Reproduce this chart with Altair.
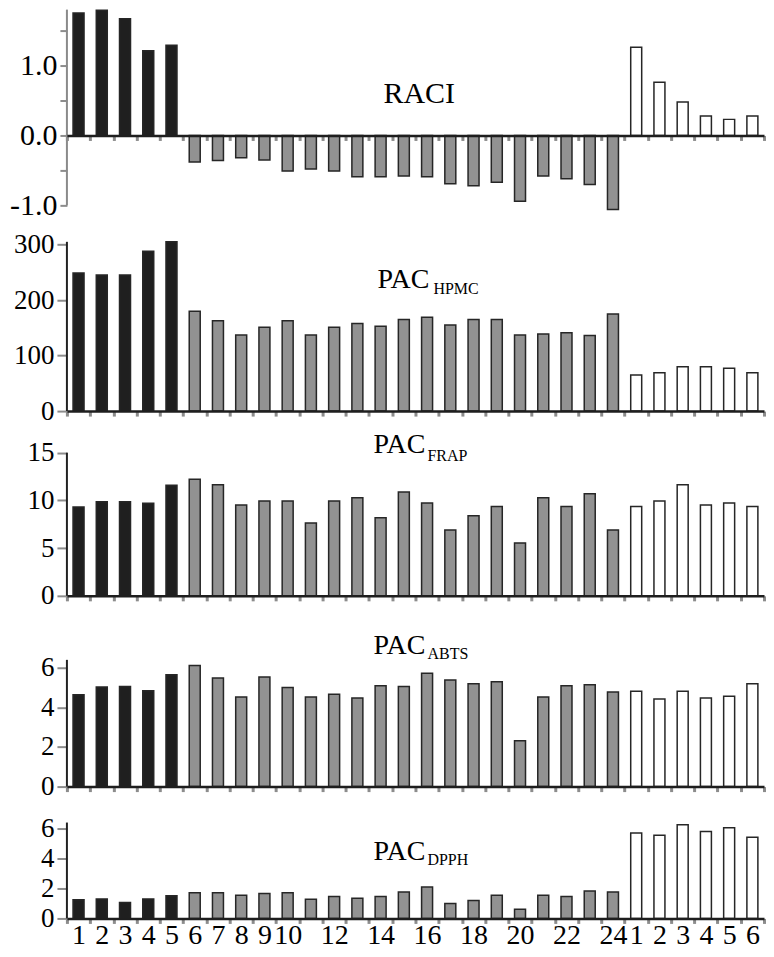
import json
import altair as alt
import pandas as pd

# ---- data ----
idx = list(range(30))
groups = ["b"] * 5 + ["g"] * 19 + ["w"] * 6
x_labels = ["1", "2", "3", "4", "5", "6", "7", "8", "9", "10", "", "12", "", "14", "",
            "16", "", "18", "", "20", "", "22", "", "24", "1", "2", "3", "4", "5", "6"]

raci = [1.75, 1.79, 1.67, 1.21, 1.29,
        -0.38, -0.36, -0.32, -0.35, -0.51, -0.48, -0.51, -0.59, -0.59, -0.58,
        -0.59, -0.69, -0.72, -0.67, -0.94, -0.58, -0.62, -0.70, -1.06,
        1.26, 0.76, 0.48, 0.28, 0.23, 0.28]
hpmc = [249, 245, 245, 288, 305,
        180, 163, 137, 151, 163, 137, 151, 158, 153, 165,
        169, 155, 165, 165, 137, 139, 141, 136, 175,
        65, 69, 80, 80, 77, 69]
frap = [9.31, 9.87, 9.87, 9.70, 11.58,
        12.21, 11.65, 9.52, 9.94, 9.94, 7.64, 9.94, 10.29, 8.19, 10.88,
        9.73, 6.91, 8.40, 9.35, 5.55, 10.29, 9.35, 10.71, 6.91,
        9.35, 9.94, 11.65, 9.52, 9.73, 9.35]
abts = [4.64, 5.03, 5.06, 4.84, 5.65,
        6.12, 5.48, 4.52, 5.53, 5.01, 4.52, 4.66, 4.47, 5.09, 5.06,
        5.72, 5.38, 5.19, 5.30, 2.32, 4.52, 5.09, 5.14, 4.78,
        4.81, 4.42, 4.81, 4.47, 4.56, 5.19]
dpph = [1.24, 1.30, 1.06, 1.30, 1.51,
        1.71, 1.71, 1.54, 1.67, 1.71, 1.28, 1.47, 1.35, 1.47, 1.77,
        2.09, 1.00, 1.19, 1.54, 0.62, 1.54, 1.47, 1.83, 1.77,
        5.71, 5.55, 6.26, 5.81, 6.05, 5.42]

group_domain = ["b", "g", "w"]
group_colors = ["#1f1f1f", "#929292", "#ffffff"]

FONT = "Liberation Serif"
W = 698


def panel(values, dom, axis_lo, axis_top, ticks, height, label_size, axis_color, tick_size,
          title, sub, tx, ty, sx, sy, x_offset=0, show_labels=False, y_label_expr=None):
    df = pd.DataFrame({"idx": idx, "v": values, "grp": groups})
    xaxis_kw = dict(title=None, labels=show_labels, tickBand="extent", domainColor="#1e1e1e",
                    domainWidth=2.5, tickColor="#8c8c8c", tickWidth=3, tickSize=5,
                    offset=x_offset, zindex=1, labelAngle=0)
    if show_labels:
        xaxis_kw.update(labelExpr=json.dumps(x_labels) + "[datum.value]", labelFont=FONT,
                        labelFontSize=28, labelColor="black", labelPadding=-2,
                        labelOverlap=False)
    yaxis_kw = dict(values=ticks, title=None, domain=False, grid=False, tickColor="#8c8c8c",
                    tickWidth=2, tickSize=tick_size, labelFont=FONT, labelFontSize=label_size,
                    labelColor="black", labelPadding=3)
    if y_label_expr:
        yaxis_kw.update(labelExpr=y_label_expr)
    yaxis = alt.Axis(**yaxis_kw)
    yscale = alt.Scale(domain=dom, nice=False, zero=False)

    bars = alt.Chart(df).mark_bar(size=11, stroke="#262626", strokeWidth=1.5).encode(
        x=alt.X("idx:O", scale=alt.Scale(paddingInner=0, paddingOuter=0),
                axis=alt.Axis(**xaxis_kw)),
        y=alt.Y("v:Q", scale=yscale, axis=yaxis),
        y2=alt.datum(0),
        fill=alt.Fill("grp:N", scale=alt.Scale(domain=group_domain, range=group_colors),
                      legend=None),
    )
    rule = alt.Chart(pd.DataFrame({"lo": [axis_lo], "hi": [axis_top]})).mark_rule(
        color=axis_color, strokeWidth=2).encode(
        x=alt.value(0), y=alt.Y("lo:Q", scale=yscale, axis=yaxis), y2="hi:Q")
    layers = [bars, rule]
    t1 = alt.Chart(pd.DataFrame({"t": [title]})).mark_text(
        font=FONT, fontSize=28 if sub else 30, align="left", baseline="alphabetic",
        color="black").encode(text="t:N", x=alt.value(tx), y=alt.value(ty))
    layers.append(t1)
    if sub:
        t2 = alt.Chart(pd.DataFrame({"t": [sub]})).mark_text(
            font=FONT, fontSize=16, align="left", baseline="alphabetic",
            color="black").encode(text="t:N", x=alt.value(sx), y=alt.value(sy))
        layers.append(t2)
    return alt.layer(*layers).properties(width=W, height=height)


p1 = panel(raci, [-1.0, 1.8], -1.0, 1.8, [-1.0, -0.5, 0, 0.5, 1.0, 1.5], 196, 30,
           "#8a8a8a", 7, "RACI", None, 317, 94, 0, 0, x_offset=-70,
           y_label_expr="datum.value == 1 ? '1.0' : datum.value == 0 ? '0.0' : datum.value == -1 ? '-1.0' : ''")
p2 = panel(hpmc, [0, 370.7], 0, 305, [0, 100, 200, 300], 206, 27, "#222222", 10,
           "PAC", "HPMC", 311, 83, 367, 89)
p3 = panel(frap, [0, 19.36], 0, 15, [0, 5, 10, 15], 185, 27, "#222222", 10,
           "PAC", "FRAP", 307, 42, 361, 50)
p4 = panel(abts, [0, 9.632], 0, 6.4, [0, 2, 4, 6], 191, 27, "#222222", 10,
           "PAC", "ABTS", 307, 58, 361, 63)
p5 = panel(dpph, [0, 8.8], 0, 6.4, [0, 2, 4, 6], 132, 27, "#222222", 10,
           "PAC", "DPPH", 307, 74, 361, 79, show_labels=True)

chart = alt.vconcat(p1, p2, p3, p4, p5, spacing=0, bounds="flush").properties(
    padding={"top": 0, "left": 1, "right": 0, "bottom": 0}
).configure_view(stroke=None).configure_axis(labelFont=FONT)

chart.save("out.html", embed_options={"renderer": "svg", "actions": False})
